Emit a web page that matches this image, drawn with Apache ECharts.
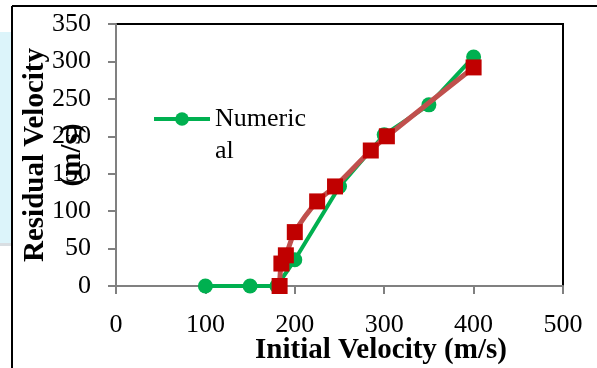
<!DOCTYPE html>
<html>
<head>
<meta charset="utf-8">
<script src="https://cdn.jsdelivr.net/npm/echarts@6/dist/echarts.min.js"></script>
<style>
html,body{margin:0;padding:0;background:#fff;}
#c{width:597px;height:368px;}
</style>
</head>
<body>
<div id="c"></div>
<script>
// Data
const numericalName = 'Numerical';
const numericalX = [100, 150, 180, 200, 250, 300, 350, 400];
const numericalY = [0, 0, 0, 35, 133, 202, 242, 306];
const experimentalName = 'Experimental';
const experimentalX = [183, 185, 190, 200, 225, 245, 285, 303, 400];
const experimentalY = [0, 30, 41, 72, 113, 133, 181, 200, 292];
const xTicks = {min: 0, max: 500, interval: 100};
const yTicks = {min: 0, max: 350, interval: 50};
const xTitle = 'Initial Velocity (m/s)';
const yTitle = 'Residual Velocity\n(m/s)';

const pair = (xs, ys) => xs.map((x, i) => [x, ys[i]]);
const serif = '"Liberation Serif", "Times New Roman", serif';

const chart = echarts.init(document.getElementById('c'), null, {renderer: 'canvas'});
chart.setOption({
  backgroundColor: '#fff',
  animation: false,
  grid: {left: 116, right: 34, top: 24, bottom: 82, show: true, borderColor: '#000', borderWidth: 2, backgroundColor: 'transparent', containLabel: false, outerBoundsMode: 'none'},
  graphic: [
    {type: 'rect', shape: {x: 0, y: 32, width: 11, height: 211}, style: {fill: '#dcf4fa'}, silent: true},
    {type: 'rect', shape: {x: 0, y: 243, width: 11, height: 3}, style: {fill: '#d9dee2'}, silent: true},
    {type: 'line', shape: {x1: 12, y1: 6, x2: 597, y2: 6}, style: {stroke: '#000', lineWidth: 2}, silent: true},
    {type: 'line', shape: {x1: 12, y1: 6, x2: 12, y2: 368}, style: {stroke: '#000', lineWidth: 2}, silent: true}
  ],
  legend: {
    data: [numericalName],
    left: 152, top: 71, padding: 0,
    itemWidth: 56, itemHeight: 17,
    lineStyle: {width: 4, color: '#00b050'},
    formatter: () => '\nNumeric\nal',
    textStyle: {fontFamily: serif, fontSize: 26, color: '#000', lineHeight: 32}
  },
  xAxis: {
    type: 'value', min: xTicks.min, max: xTicks.max, interval: xTicks.interval,
    name: xTitle, nameLocation: 'middle', nameGap: 50, nameMoveOverlap: false,
    nameTextStyle: {fontFamily: serif, fontSize: 29, fontWeight: 'bold', color: '#000', padding: [0, 0, 0, 83]},
    axisLine: {show: true, onZero: false, lineStyle: {color: '#808080', width: 2}},
    axisTick: {show: true, length: 8, lineStyle: {color: '#808080', width: 2}},
    axisLabel: {fontFamily: serif, fontSize: 26, color: '#000', margin: 26},
    splitLine: {show: false}
  },
  yAxis: {
    type: 'value', min: yTicks.min, max: yTicks.max, interval: yTicks.interval,
    name: yTitle, nameLocation: 'middle', nameGap: 25, nameRotate: 90, nameMoveOverlap: false,
    nameTextStyle: {fontFamily: serif, fontSize: 29, fontWeight: 'bold', color: '#000', lineHeight: 37},
    axisLine: {show: true, onZero: false, lineStyle: {color: '#808080', width: 2}},
    axisTick: {show: true, length: 8, lineStyle: {color: '#808080', width: 2}},
    axisLabel: {fontFamily: serif, fontSize: 26, color: '#000', margin: 25},
    splitLine: {show: false}
  },
  series: [
    {
      name: numericalName, type: 'line', data: pair(numericalX, numericalY),
      symbol: 'circle', symbolSize: 15,
      lineStyle: {color: '#00b050', width: 4},
      itemStyle: {color: '#00b050'},
      z: 2
    },
    {
      name: experimentalName, type: 'line', data: pair(experimentalX, experimentalY),
      symbol: 'rect', symbolSize: 16, smooth: 0.3,
      lineStyle: {color: '#c0504d', width: 5},
      itemStyle: {color: '#c00000'},
      z: 3
    }
  ]
});
</script>
</body>
</html>
